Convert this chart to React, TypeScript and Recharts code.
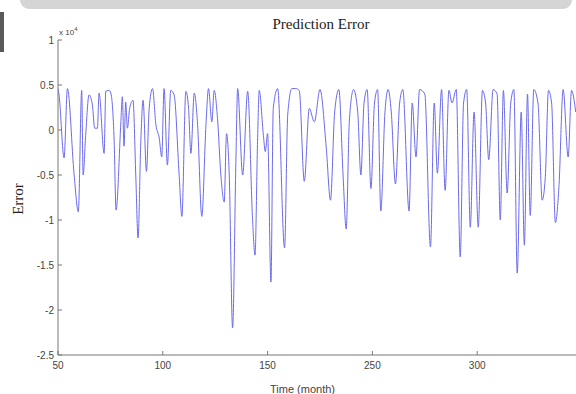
import { LineChart, Line, XAxis, YAxis } from "recharts"

// time (month) and prediction error (x 10^4), turning points
const TIME = [
  50, 50.5, 52.9, 54.5, 57.7, 59.7, 61.3, 62, 63.2, 64.8, 66.4, 67.5, 68.8, 69.6, 72, 72.8, 74.4, 75.2, 76.8, 77.7,
  80, 80.7, 81.5, 82.3, 83.1, 84.2, 85.8, 87.1, 88.2, 89.5, 90.6, 92.2, 93.5, 95.1, 96.7, 98.3, 99.5, 100.6, 102.2, 103.8,
  105.4, 107.8, 109.1, 111, 112.3, 113.4, 115, 116.6, 118.6, 120.6, 121.8, 123.4, 124.5, 126.1, 127.7, 129.3, 130.4, 131.7, 133.3, 134.9,
  135.7, 138.1, 140.5, 142.8, 144, 145.2, 146, 148, 148.9, 150, 151.6, 152.7, 154.8, 158.1, 159.6, 161.6, 163.5, 165.1, 167.5, 169.9,
  172.3, 175, 178, 180, 182, 184, 186, 187.5, 189, 191, 193, 194.5, 196, 197.5, 199.3, 201, 202.5, 204, 206, 207.5,
  209, 211, 213, 214.5, 217.5, 219, 220.8, 222.5, 225, 227.7, 229.5, 231, 233, 234.7, 236.5, 238, 240, 241.9, 243.5, 245,
  246.7, 248.5, 250.5, 252.5, 254, 255.5, 257.6, 259.5, 261, 262.5, 264.3, 266, 267.5, 269.1, 271, 272.5, 274, 275.3, 277, 279,
  281, 282.5, 284, 285.5, 287.3, 289, 291, 293.4, 295, 297,
]
const ERROR = [
  0.46, 0.39, -0.31, 0.46, -0.5, -0.91, 0.44, -0.5, -0.06, 0.39, 0.28, 0.02, 0.02, 0.41, -0.26, 0.43, 0.44, 0.41, -0.13, -0.89,
  0.09, 0.37, -0.18, 0.31, 0.02, 0.24, 0.33, -0.5, -1.2, -0.13, 0.33, -0.46, 0.24, 0.46, 0.06, -0.09, -0.3, 0.46, -0.39, 0.44,
  0.39, -0.5, -0.96, 0.43, 0.24, -0.26, 0.41, 0.06, -0.96, 0.06, 0.46, 0.09, 0.44, 0.13, -0.5, -0.8, -0.04, -0.5, -2.2, -0.31,
  0.46, -0.5, 0.43, -0.98, -1.39, -0.13, 0.44, -0.06, -0.24, -0.04, -1.69, 0.24, 0.46, -1.31, 0.17, 0.46, 0.46, 0.44, -0.57, 0.24,
  0.09, 0.45, -0.2, -0.78, 0.2, 0.45, -0.5, -1.1, 0.1, 0.45, 0.2, -0.5, 0.3, 0.45, -0.65, 0.3, 0.45, -0.9, 0.2, 0.45,
  0.2, -0.6, 0.3, 0.45, -0.9, 0.3, -0.3, 0.45, 0.4, -1.3, 0.3, -0.48, 0.45, -0.67, 0.44, 0.3, 0.45, -1.41, 0.3, 0.45,
  -1.08, 0.2, -1.08, 0.44, 0.3, -0.33, 0.45, 0.4, -1.0, 0.44, -0.7, 0.3, 0.45, -1.59, 0.2, -1.28, 0.4, -0.95, 0.45, 0.3,
  -0.78, -0.52, 0.44, 0.3, -1.03, -0.63, 0.45, -0.3, 0.44, 0.2,
]

const X_TICKS = [50, 100, 150, 200, 250, 300]
const X_TICK_LABELS = ["50", "100", "150", "250", "300", ""]
const Y_TICKS = [1, 0.5, 0, -0.5, -1, -1.5, -2, -2.5]

const data = TIME.map((t, i) => ({ t, err: ERROR[i] }))

const axisColor = "#777"
const tickFont = { fontSize: 10, fill: "#444", fontFamily: "'Liberation Sans', Arial, sans-serif" }

export default function App() {
  return (
    <div style={{ position: "fixed", left: 0, top: 0, width: 576, height: 394, overflow: "hidden", background: "#fff" }}>
      {/* window chrome remnants */}
      <div style={{ position: "absolute", left: 20, top: 0, width: 552, height: 9, background: "#d5d5d5", borderRadius: "0 0 12px 12px" }} />
      <div style={{ position: "absolute", left: 0, top: 12, width: 4, height: 40, background: "#5a5a5a" }} />

      <div style={{ position: "absolute", left: 0, top: 16, width: 642, textAlign: "center", fontFamily: "'Liberation Serif', 'Times New Roman', serif", fontSize: 15, color: "#222" }}>
        Prediction Error
      </div>
      <div style={{ position: "absolute", left: 59, top: 26, fontFamily: "'Liberation Sans', Arial, sans-serif", fontSize: 8, color: "#444" }}>
        x 10<sup style={{ fontSize: 6 }}>4</sup>
      </div>
      <div style={{ position: "absolute", left: 18, top: 199, transform: "translate(-50%, -50%) rotate(-90deg)", fontFamily: "'Liberation Serif', 'Times New Roman', serif", fontSize: 15, color: "#222" }}>
        Error
      </div>
      <div style={{ position: "absolute", left: 270, top: 383, width: 60, textAlign: "center", whiteSpace: "nowrap", fontFamily: "'Liberation Sans', Arial, sans-serif", fontSize: 11, color: "#444" }}>
        Time (month)
      </div>

      <div style={{ position: "absolute", left: 0, top: 0 }}>
        <LineChart width={590} height={394} data={data} margin={{ top: 40, right: 8, left: 0, bottom: 0 }}>
          <XAxis
            dataKey="t"
            type="number"
            domain={[50, 300]}
            ticks={X_TICKS}
            tickFormatter={(v) => X_TICK_LABELS[X_TICKS.indexOf(v)] ?? ""}
            height={39}
            stroke={axisColor}
            tick={tickFont}
            tickSize={-4}
            tickMargin={11}
            allowDataOverflow
          />
          <XAxis
            xAxisId="top"
            dataKey="t"
            type="number"
            orientation="top"
            domain={[50, 300]}
            ticks={X_TICKS}
            height={0}
            stroke={axisColor}
            tick={false}
            tickSize={-4}
          />
          <YAxis
            type="number"
            domain={[-2.5, 1]}
            ticks={Y_TICKS}
            width={58}
            stroke={axisColor}
            tick={tickFont}
            tickSize={-4}
            tickMargin={8}
            allowDataOverflow
          />
          <Line
            type="monotone"
            dataKey="err"
            stroke="#6b6bec"
            strokeWidth={1}
            dot={false}
            isAnimationActive={false}
          />
        </LineChart>
      </div>
    </div>
  )
}
